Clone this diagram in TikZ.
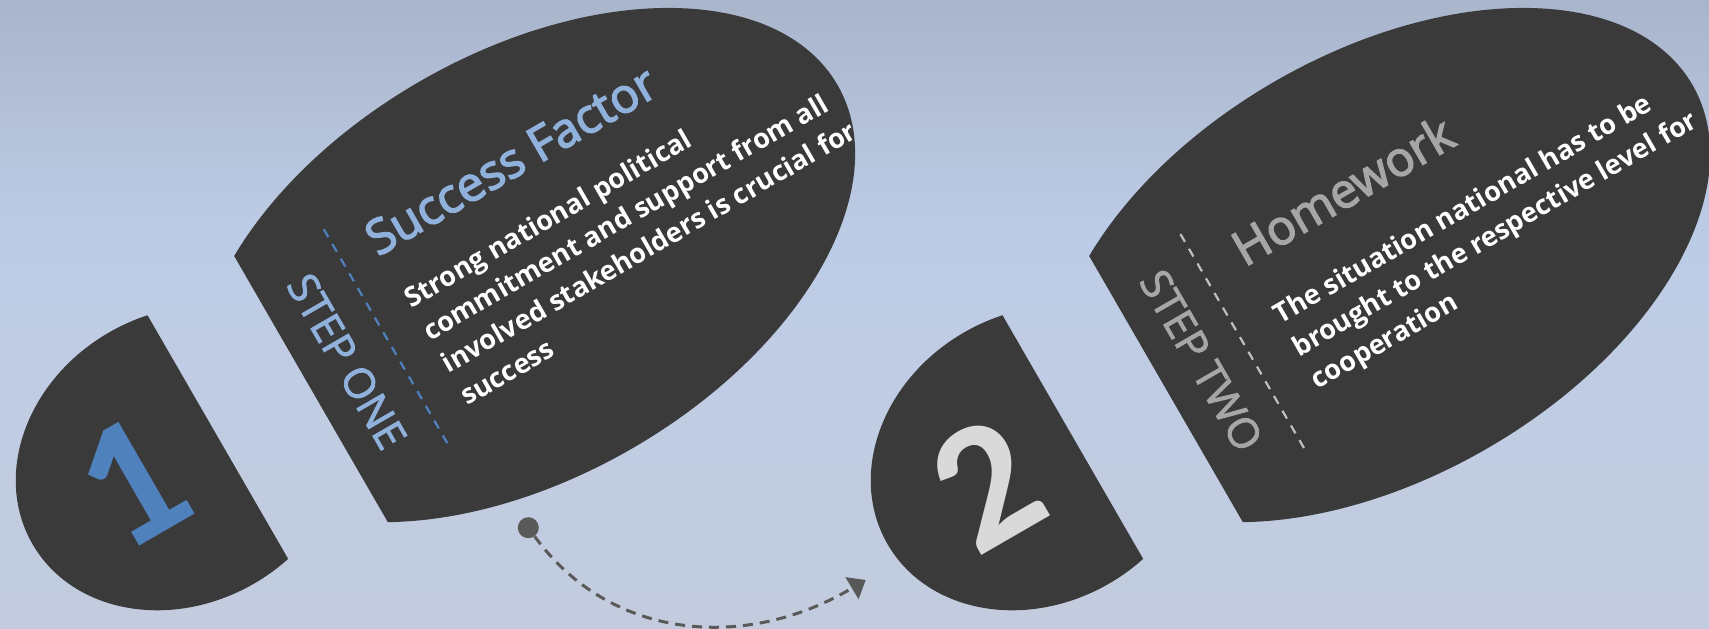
\documentclass[tikz,border=0pt]{standalone}
\usepackage{fontspec}
\setmainfont{Open Sans}
\newfontfamily\numfont{Carlito}
\newfontfamily\titlefont{Open Sans}[FakeBold=3]
\newfontfamily\stepfont{Open Sans}[FakeBold=2]
\usetikzlibrary{arrows.meta}
\definecolor{shoe}{HTML}{3A3A3A}
\definecolor{bgtop}{HTML}{A9B5CB}
\definecolor{bgmid}{HTML}{BDCCE6}
\definecolor{bgbot}{HTML}{C3CCDE}
\definecolor{blueA}{HTML}{4F81BD}
\definecolor{blueL}{HTML}{8FB1DB}
\definecolor{grayT}{HTML}{A6A6A6}
\definecolor{grayN}{HTML}{D9D9D9}
\definecolor{grayD}{HTML}{BFBFBF}
\definecolor{conn}{HTML}{595959}
\begin{document}
\begin{tikzpicture}[x=1pt,y=1pt,
  titletext/.style={anchor=base west, inner sep=0pt, font=\titlefont\fontsize{48}{64}\selectfont},
  bodytext/.style={anchor=base west, inner sep=0pt, text=white, font=\bfseries\fontsize{27.2}{37.5}\selectfont},
  steptext/.style={anchor=base, inner sep=0pt, rotate=-90, font=\stepfont\fontsize{42}{56}\selectfont},
  numtext/.style={anchor=base, inner sep=0pt, font=\numfont\bfseries\fontsize{181}{200}\selectfont},
  divider/.style={line width=2.2pt, dash pattern=on 9pt off 8pt},
  connector/.style={conn, line width=3pt, dash pattern=on 10pt off 7pt, -{Triangle[length=16pt,width=25pt]}},
]
\useasboundingbox (0,0) rectangle (1709,629);
% background
\shade[top color=bgtop, bottom color=bgmid] (0,393) rectangle (1709,629);
\shade[top color=bgmid, bottom color=bgbot] (0,0) rectangle (1709,394);

% ---------- shoe 1 ----------
\begin{scope}[shift={(229.5,381.1)}, rotate=30, transform shape]
  \begin{scope}
    \clip (0,-700) -- (800,-700) -- (800,300) -- (0,300) -- cycle;
    \fill[shoe] (248,-163) ellipse [x radius=360, y radius=212];
  \end{scope}
  \begin{scope}
    \clip (-104.7,-700) -- (-600,-700) -- (-600,300) -- (-104.7,300) -- cycle;
    \fill[shoe] (-146.7,-158) ellipse [x radius=172, y radius=145];
  \end{scope}
  \node[numtext, text=blueA] (num1) at (-201.7,-213) {1};
  \node[steptext, text=blueL] (step1) at (30,-157) {STEP ONE};
  \coordinate (d1a) at (91,-31);
  \coordinate (d1b) at (91,-278);
  \draw[divider, blueA] (d1a) -- (d1b);
  \node[titletext, text=blueL] (title1) at (124,-82) {Success Factor};
  \node[bodytext] (b1a) at (127,-143.5) {Strong national political};
  \node[bodytext] (b1b) at (127,-181) {commitment and support from all};
  \node[bodytext] (b1c) at (127,-218.5) {involved stakeholders is crucial for};
  \node[bodytext] (b1d) at (127,-256) {success};
\end{scope}

% ---------- shoe 2 ----------
\begin{scope}[shift={(1084.5,381.1)}, rotate=30, transform shape]
  \begin{scope}
    \clip (0,-700) -- (800,-700) -- (800,300) -- (0,300) -- cycle;
    \fill[shoe] (248,-163) ellipse [x radius=360, y radius=212];
  \end{scope}
  \begin{scope}
    \clip (-104.7,-700) -- (-600,-700) -- (-600,300) -- (-104.7,300) -- cycle;
    \fill[shoe] (-146.7,-158) ellipse [x radius=172, y radius=145];
  \end{scope}
  \node[numtext, text=grayN] (num2) at (-202.6,-215) {2};
  \node[steptext, text=grayT] (step2) at (30,-156) {STEP TWO};
  \coordinate (d2a) at (90,-36);
  \coordinate (d2b) at (90,-283);
  \draw[divider, grayD] (d2a) -- (d2b);
  \node[titletext, text=grayT] (title2) at (129,-97) {Homework};
  \node[bodytext] (b2a) at (131,-164.5) {The situation national has to be};
  \node[bodytext] (b2b) at (131,-202) {brought to the respective level for};
  \node[bodytext] (b2c) at (131,-239.5) {cooperation};
\end{scope}

% ---------- connector ----------
\node[circle, fill=conn, minimum size=21pt, inner sep=0pt] (dot) at (528.3,101.3) {};
\coordinate (arrowend) at (865.7,49);
\draw[connector] (dot) .. controls (610,-11) and (745,-23) .. (arrowend);
\end{tikzpicture}
\end{document}
